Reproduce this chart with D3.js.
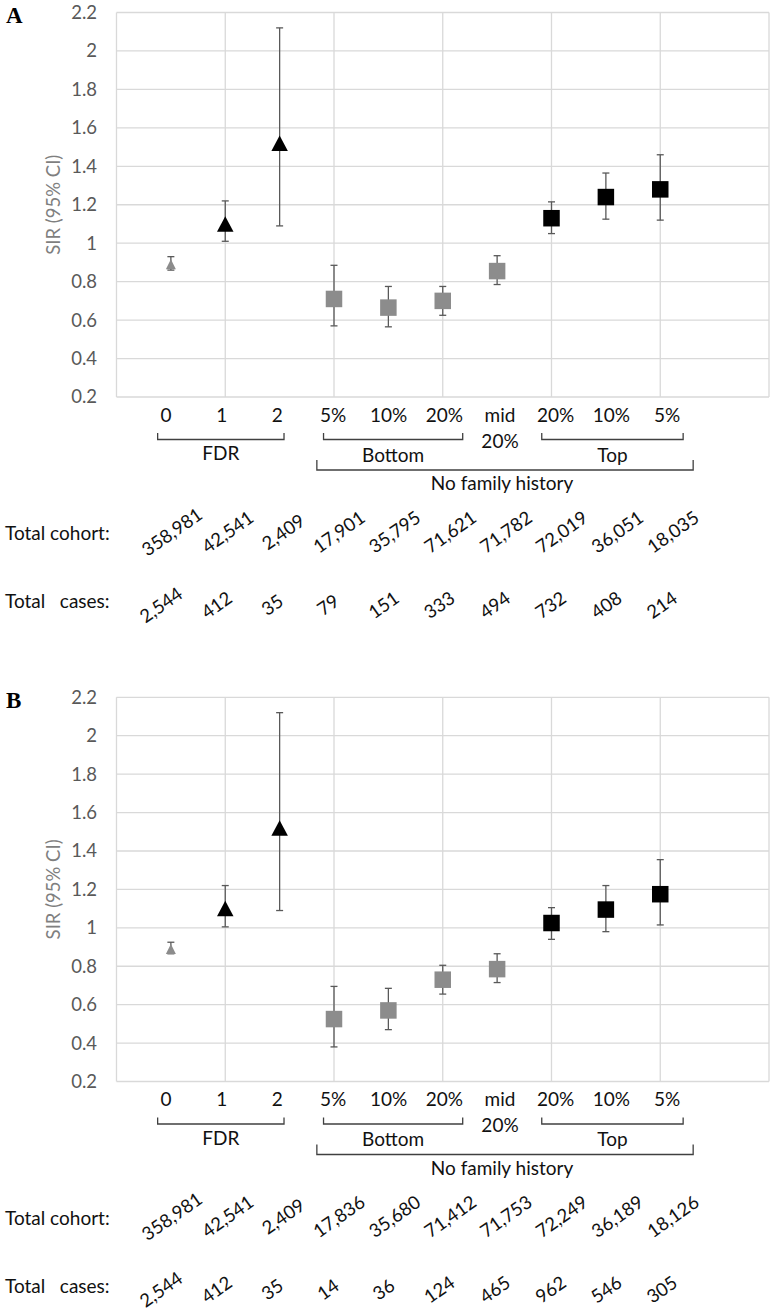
<!DOCTYPE html>
<html>
<head>
<meta charset="utf-8">
<script src="https://cdn.jsdelivr.net/npm/d3@7"></script>
<style>
  html, body { margin: 0; padding: 0; background: #fff; }
  svg { display: block; }
  text { font-family: Lato, "Open Sans", sans-serif; }
</style>
</head>
<body>
<div id="chart"></div>
<script>
// ---------- data ----------
const categories = ["0", "1", "2", "5%", "10%", "20%", "mid", "20%", "10%", "5%"];
const groups = ["FDR", "FDR", "FDR", "Bottom", "Bottom", "Bottom", "Mid", "Top", "Top", "Top"];
const yTicks = [0.2, 0.4, 0.6, 0.8, 1, 1.2, 1.4, 1.6, 1.8, 2, 2.2];

// Panel A
const sirA  = [0.89, 1.10, 1.52, 0.71, 0.665, 0.70, 0.855, 1.13, 1.24, 1.28];
const lowA  = [0.86, 1.01, 1.09, 0.57, 0.565, 0.625, 0.785, 1.05, 1.125, 1.12];
const highA = [0.93, 1.22, 2.12, 0.885, 0.775, 0.775, 0.935, 1.215, 1.365, 1.46];
const cohortA = [358981, 42541, 2409, 17901, 35795, 71621, 71782, 72019, 36051, 18035];
const casesA  = [2544, 412, 35, 79, 151, 333, 494, 732, 408, 214];

// Panel B
const sirB  = [0.89, 1.10, 1.52, 0.525, 0.57, 0.73, 0.785, 1.025, 1.095, 1.175];
const lowB  = [0.865, 1.005, 1.09, 0.38, 0.47, 0.655, 0.715, 0.94, 0.98, 1.015];
const highB = [0.925, 1.22, 2.12, 0.695, 0.685, 0.805, 0.865, 1.105, 1.22, 1.355];
const cohortB = [358981, 42541, 2409, 17836, 35680, 71412, 71753, 72249, 36189, 18126];
const casesB  = [2544, 412, 35, 14, 36, 124, 465, 962, 546, 305];

// group brackets (span in category-label units)
const bracketNames = ["FDR", "Bottom", "Top"];
const bracketFrom  = [-0.15, 2.83, 6.75];
const bracketTo    = [2.12, 5.33, 9.29];
const outerName = "No family history";
const outerFrom = 2.71, outerTo = 9.47;

// ---------- layout ----------
const W = 773, H = 1313;
const panels = [
  { letter: "A", top: 12.5, bottom: 397, sir: sirA, low: lowA, high: highA, cohort: cohortA, cases: casesA },
  { letter: "B", top: 697.3, bottom: 1081.5, sir: sirB, low: lowB, high: highB, cohort: cohortB, cases: casesB }
];

const svg = d3.select("#chart").append("svg").attr("width", W).attr("height", H);

const x = d3.scaleLinear().domain([0, 12]).range([116.5, 769]);
const lx = d3.scaleLinear().domain([0, 9]).range([166, 667]);   // annotation columns
const fmt = d3.format(",");

const GRID = "#d9d9d9", ERR = "#595959", GREY = "#8c8c8c", TXT = "#111";
const FS = "19px";
const ANGLE = -35;

function markerStyle(i) {
  if (groups[i] === "FDR") {
    return i === 0 ? { shape: "tri", w: 10, h: 10, fill: GREY } : { shape: "tri", w: 16.5, h: 15.5, fill: "#000" };
  }
  return groups[i] === "Top" ? { shape: "sq", w: 16.5, h: 16.5, fill: "#000" } : { shape: "sq", w: 16.5, h: 16.5, fill: GREY };
}

panels.forEach(p => {
  const y = d3.scaleLinear().domain([0.2, 2.2]).range([p.bottom, p.top]);
  const g = svg.append("g");

  // horizontal grid
  g.selectAll("line.hg").data(yTicks).join("line").attr("class", "hg")
    .attr("x1", x(0)).attr("x2", x(12))
    .attr("y1", d => y(d)).attr("y2", d => y(d))
    .attr("stroke", GRID).attr("stroke-width", 1.3);
  // vertical grid
  g.selectAll("line.vg").data(d3.range(0, 13, 2)).join("line").attr("class", "vg")
    .attr("x1", d => x(d)).attr("x2", d => x(d))
    .attr("y1", y(0.2)).attr("y2", y(2.2))
    .attr("stroke", GRID).attr("stroke-width", 1.3);

  // y axis labels
  const ax = g.append("g").attr("transform", `translate(${x(0)},0)`)
    .call(d3.axisLeft(y).tickValues(yTicks).tickSize(0).tickPadding(19.5).tickFormat(d => String(+d.toFixed(1))));
  ax.select(".domain").remove();
  ax.selectAll("text").attr("fill", "#595959").style("font-size", "18.5px").style("font-family", "Lato, sans-serif");

  // axis title
  g.append("text")
    .attr("transform", `translate(60,${(p.top + p.bottom) / 2}) rotate(-90)`)
    .attr("text-anchor", "middle")
    .attr("fill", "#7f7f7f").style("font-size", "18.5px")
    .text("SIR (95% CI)");

  // panel letter
  g.append("text").attr("x", 6).attr("y", p.top + 10.5)
    .style("font-family", "'Liberation Serif', 'DejaVu Serif', serif")
    .style("font-weight", "bold").style("font-size", "23px")
    .attr("fill", "#000").text(p.letter);

  const idx = d3.range(categories.length);

  // error bars
  const eb = g.selectAll("g.eb").data(idx).join("g").attr("class", "eb");
  eb.append("line")
    .attr("x1", i => x(i + 1)).attr("x2", i => x(i + 1))
    .attr("y1", i => y(p.low[i])).attr("y2", i => y(p.high[i]))
    .attr("stroke", ERR).attr("stroke-width", 1.3);
  [p.low, p.high].forEach(arr => {
    eb.append("line")
      .attr("x1", i => x(i + 1) - 3.5).attr("x2", i => x(i + 1) + 3.5)
      .attr("y1", i => y(arr[i])).attr("y2", i => y(arr[i]))
      .attr("stroke", ERR).attr("stroke-width", 1.3);
  });

  // markers
  idx.forEach(i => {
    const s = markerStyle(i);
    const cx = x(i + 1), cy = y(p.sir[i]);
    if (s.shape === "sq") {
      g.append("rect").attr("x", cx - s.w / 2).attr("y", cy - s.h / 2)
        .attr("width", s.w).attr("height", s.h).attr("fill", s.fill);
    } else {
      g.append("path")
        .attr("d", `M${cx},${cy - s.h / 2}L${cx + s.w / 2},${cy + s.h / 2}L${cx - s.w / 2},${cy + s.h / 2}Z`)
        .attr("fill", s.fill);
    }
  });

  // category labels
  const b = p.bottom;
  g.selectAll("text.cat").data(idx).join("text").attr("class", "cat")
    .attr("x", i => lx(i)).attr("y", b + 24.7)
    .attr("text-anchor", "middle").attr("fill", TXT).style("font-size", FS)
    .text(i => categories[i]);
  g.append("text").attr("x", lx(6)).attr("y", b + 50.7)
    .attr("text-anchor", "middle").attr("fill", TXT).style("font-size", FS).text("20%");

  // brackets
  const BR = "#404040";
  bracketNames.forEach((name, k) => {
    const x1 = lx(bracketFrom[k]), x2 = lx(bracketTo[k]);
    g.append("path").attr("d", `M${x1},${b + 36}V${b + 42.5}H${x2}V${b + 36}`)
      .attr("fill", "none").attr("stroke", BR).attr("stroke-width", 1.3);
    g.append("text").attr("x", (x1 + x2) / 2).attr("y", b + (name === "FDR" ? 63 : 64.5))
      .attr("text-anchor", "middle").attr("fill", TXT).style("font-size", FS).text(name);
  });
  {
    const x1 = lx(outerFrom), x2 = lx(outerTo);
    g.append("path").attr("d", `M${x1},${b + 63}V${b + 73}H${x2}V${b + 63}`)
      .attr("fill", "none").attr("stroke", BR).attr("stroke-width", 1.3);
    g.append("text").attr("x", (x1 + x2) / 2 - 3).attr("y", b + 93)
      .attr("text-anchor", "middle").attr("fill", TXT).style("font-size", FS).text(outerName);
  }

  // table rows
  g.append("text").attr("x", 5).attr("y", b + 143).attr("fill", TXT).style("font-size", FS).text("Total cohort:");
  g.append("text").attr("x", 5).attr("y", b + 211.3).attr("fill", TXT).style("font-size", FS)
    .attr("xml:space", "preserve").style("white-space", "pre").text("Total   cases:");

  const coh = g.selectAll("g.coh").data(idx).join("g").attr("class", "coh")
    .attr("transform", i => `translate(${lx(i) + 6},${b + 135})`);
  coh.append("text")
    .attr("transform", `rotate(${ANGLE})`)
    .attr("text-anchor", "middle").attr("dy", "0.35em")
    .attr("fill", TXT).style("font-size", "18.5px")
    .text(i => fmt(p.cohort[i]));

  const cas = g.selectAll("g.cas").data(idx).join("g").attr("class", "cas")
    .attr("transform", i => `translate(${lx(i) - 5},${b + 208})`);
  cas.append("text")
    .attr("transform", `rotate(${ANGLE})`)
    .attr("text-anchor", "middle").attr("dy", "0.35em")
    .attr("fill", TXT).style("font-size", "18.5px")
    .text(i => fmt(p.cases[i]));
});
</script>
</body>
</html>
